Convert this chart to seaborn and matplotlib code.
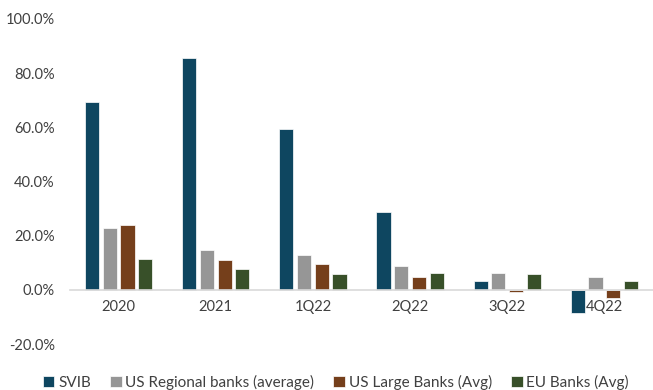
import matplotlib
matplotlib.use("Agg")
import matplotlib.pyplot as plt
import seaborn as sns
import pandas as pd
from matplotlib.ticker import FuncFormatter

categories = ["2020", "2021", "1Q22", "2Q22", "3Q22", "4Q22"]
series_names = ["SVIB", "US Regional banks (average)", "US Large Banks (Avg)", "EU Banks (Avg)"]
svib = [69.4, 85.6, 59.4, 28.7, 3.1, -8.6]
us_regional = [22.8, 14.6, 12.9, 8.7, 6.2, 4.8]
us_large = [23.9, 11.1, 9.5, 4.7, -0.7, -2.9]
eu_banks = [11.4, 7.7, 5.9, 6.2, 6.0, 3.4]
colors = ["#004B6E", "#969696", "#843C0C", "#375623"]

rows = []
for name, vals in zip(series_names, [svib, us_regional, us_large, eu_banks]):
    for c, v in zip(categories, vals):
        rows.append({"period": c, "series": name, "value": v})
df = pd.DataFrame(rows)

sns.set_theme(style="white")
plt.rcParams["font.family"] = ["Lato", "DejaVu Sans"]

fig = plt.figure(figsize=(6.53, 3.9), dpi=100)
ax = fig.add_axes([70 / 653, 1 - 344 / 390, 1 - 70 / 653, (344 - 19) / 390])

sns.barplot(data=df, x="period", y="value", hue="series", order=categories,
            hue_order=series_names, palette=colors, width=0.73, gap=0.2,
            edgecolor="white", linewidth=0.5, ax=ax, legend=True)

ax.set_ylim(-20, 100)
ax.set_xlim(-0.5, 5.5)
ax.set_yticks([-20, 0, 20, 40, 60, 80, 100])
ax.yaxis.set_major_formatter(FuncFormatter(lambda v, p: f"{v:.1f}%"))
ax.set_xlabel("")
ax.set_ylabel("")
for s in ["top", "right", "left"]:
    ax.spines[s].set_visible(False)
ax.spines["bottom"].set_position(("data", 0))
ax.spines["bottom"].set_color("#D9D9D9")
ax.spines["bottom"].set_linewidth(1.2)
ax.tick_params(axis="both", length=0, labelsize=10.5, colors="#404040")
ax.tick_params(axis="x", pad=7)
ax.tick_params(axis="y", pad=11)
ax.grid(False)

handles, labels = ax.get_legend_handles_labels()
ax.legend(handles, labels, ncol=4, loc="center", frameon=False,
          bbox_to_anchor=(336 / 653, 1 - 382.5 / 390), bbox_transform=fig.transFigure,
          handlelength=0.75, handleheight=0.75, handletextpad=0.25,
          columnspacing=1.25, fontsize=11, labelcolor="#404040")

fig.savefig("out.png", dpi=100)
